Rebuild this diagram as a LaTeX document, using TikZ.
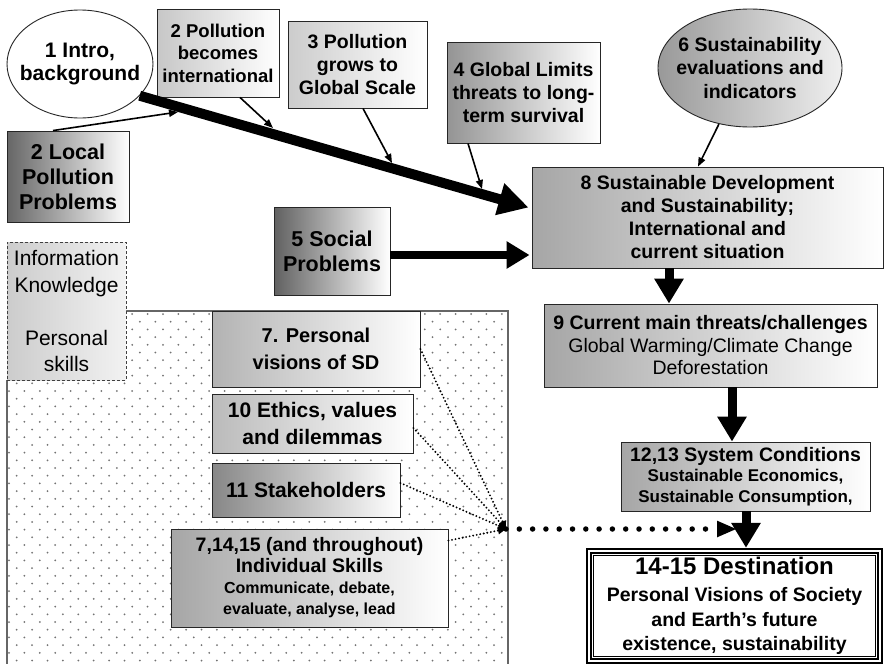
\documentclass[tikz,border=0pt]{standalone}
\usepackage{fontspec}
\setmainfont{Liberation Sans}
\usetikzlibrary{arrows.meta,shapes.geometric,calc}
\newcommand\FS[2]{\fontsize{#1}{#2}\selectfont}
\begin{document}
\begin{tikzpicture}[x=1pt,y=-1pt,
  box/.style={rectangle, draw=black!85, line width=0.9pt, align=center, inner sep=0pt, right color=white},
  oval/.style={ellipse, draw=black!85, line width=0.9pt, align=center, inner sep=-30pt},
  bigarrow/.style={line width=9pt, -{Triangle[length=25pt,width=28pt]}},
  thinarrow/.style={line width=1.6pt, -{Triangle[length=9pt,width=7pt]}},
  dotarrow/.style={line width=2.1pt, dash pattern=on 0pt off 3.6pt, line cap=round, -{Triangle[length=8pt,width=7pt]}},
  bigdots/.style={line width=5.5pt, dash pattern=on 0pt off 13.3pt, line cap=round, -{Triangle[length=20pt,width=15pt]}},
  hd/.style={font=\FS{19.5}{23}\bfseries}
]
\useasboundingbox (0,0) rectangle (884,664);
\fill[white] (0,0) rectangle (884,664);

% dotted field behind the personal-skills boxes
\begin{scope}
  \clip (7,380) -- (126,380) -- (126,311) -- (508,311) -- (508,664) -- (7,664) -- cycle;
  \foreach \j in {0,...,45}{
    \pgfmathsetmacro\yy{314+7.7*\j}
    \pgfmathsetmacro\xo{9+mod(\j,2)*7.7}
    \foreach \i in {0,...,32}{
      \fill[black!55] (\xo+15.4*\i,\yy) circle (1pt);
    }
  }
\end{scope}
\draw[black!60, line width=1.2pt] (7,664) -- (7,380) (126,311) -- (508,311) -- (508,664);

% nodes
\node[oval, fill=white, minimum width=146pt, minimum height=108pt, font=\FS{21}{23}\bfseries] (intro) at (80,64) {1 Intro,\\background};
\node[box, left color=black!22, minimum width=122pt, minimum height=88pt, font=\FS{18.5}{22.5}\bfseries] (intl) at (218,53) {2 Pollution\\becomes\\international};
\node[box, left color=black!20, minimum width=139pt, minimum height=87pt, hd] (glob) at (357.5,64.5) {3 Pollution\\grows to\\Global Scale};
\node[box, left color=black!42, minimum width=153pt, minimum height=101pt, hd] (lim) at (523.5,92.5) {4 Global Limits\\threats to long-\\term survival};
\node[oval, left color=black!40, right color=black!6, minimum width=184pt, minimum height=118pt, font=\FS{19.5}{23.5}\bfseries] (eval) at (750,68) {6 Sustainability\\evaluations and\\indicators};
\node[box, left color=black!60, minimum width=122pt, minimum height=91pt, font=\FS{21.5}{25}\bfseries] (loc) at (68,176.5) {2 Local\\Pollution\\Problems};
\node[box, left color=black!35, minimum width=351pt, minimum height=101pt, hd] (sd) at (707.5,217.5) {8 Sustainable Development\\and Sustainability;\\International and\\current situation};
\node[box, left color=black!62, minimum width=116pt, minimum height=88pt, font=\FS{21.5}{25}\bfseries] (soc) at (332,251) {5 Social\\Problems};
\node[rectangle, draw=black!75, line width=0.9pt, dash pattern=on 3pt off 2pt, left color=black!20, right color=black!5, minimum width=119pt, minimum height=138pt, inner sep=0pt, align=center, font=\FS{21}{26.5}] (info) at (66.5,311) {Information\\Knowledge\\[26.5pt]Personal\\skills};
\node[box, left color=black!30, minimum width=208pt, minimum height=76pt, font=\FS{20}{27}\bfseries] (pv) at (316,349) {7. Personal\\visions of SD};
\node[box, left color=black!27, minimum width=201pt, minimum height=59pt, font=\FS{21}{27}\bfseries] (eth) at (312.5,423.5) {10 Ethics, values\\and dilemmas};
\node[box, left color=black!47, minimum width=188pt, minimum height=54pt, font=\FS{21}{25}\bfseries] (stk) at (306,490) {11 Stakeholders};
\node[box, left color=black!35, minimum width=277pt, minimum height=98pt, font=\FS{19.5}{21}\bfseries] (skl) at (309.5,578) {7,14,15 (and throughout)\\Individual Skills\\{\FS{16}{19}Communicate, debate,}\\{\FS{16}{19}evaluate, analyse, lead}};
\node[box, left color=black!35, minimum width=333pt, minimum height=83pt, font=\FS{19.5}{22.5}\bfseries] (thr) at (710.5,345.5) {9 Current main threats/challenges\\{\mdseries Global Warming/Climate Change}\\{\mdseries Deforestation}};
\node[box, left color=black!35, minimum width=249pt, minimum height=69pt, font=\FS{19.5}{20.5}\bfseries] (sys) at (745.5,476.5) {12,13 System Conditions\\{\FS{17}{20}Sustainable Economics,}\\{\FS{17}{20}Sustainable Consumption,}};
\node[rectangle, fill=white, minimum width=297pt, minimum height=116pt, inner sep=0pt, align=center, font=\FS{19.5}{24.5}\bfseries] (dst) at (734.5,606) {{\FS{24}{28}14-15 Destination}\\[3pt]Personal Visions of Society\\and Earth’s future\\existence, sustainability};

% framed border of the destination box
\draw[line width=6pt] ([shift={(3,-3)}]dst.south west) rectangle ([shift={(-3,3)}]dst.north east);
\draw[white, line width=2pt] ([shift={(3,-3)}]dst.south west) rectangle ([shift={(-3,3)}]dst.north east);
\draw[line width=0.8pt] ([shift={(8,-8)}]dst.south west) rectangle ([shift={(-8,8)}]dst.north east);

% main pollution route
\coordinate (tipd) at ($(sd.west)+(-3,-10)$);
\draw[line width=10pt, -{Triangle[length=30pt,width=31pt]}] (intro.-28) -- (tipd);
\coordinate (c1) at (178,112);
\coordinate (c2) at (273,128);
\coordinate (c3) at (392,163);
\coordinate (c4) at (482,189);
\draw[thinarrow] ([xshift=-15pt]loc.north) -- (c1);
\draw[thinarrow] ([xshift=22pt]intl.south) -- (c2);
\draw[thinarrow] ([xshift=5.5pt]glob.south) -- (c3);
\draw[thinarrow] ([xshift=-55.5pt]lim.south) -- (c4);
\draw[thinarrow] (eval.-119) -- ([xshift=-9.5pt]sd.north);

\coordinate (socout) at ([yshift=-4pt]soc.east);
\draw[line width=8pt, shorten >=2pt, -{Triangle[length=23pt,width=26pt]}] (socout) -- (socout -| sd.west);

% downward chain
\coordinate (x89) at (669,0);
\coordinate (x912) at (732,0);
\coordinate (x12d) at (746,0);
\draw[bigarrow] (sd.south -| x89) -- (thr.north -| x89);
\draw[bigarrow] (thr.south -| x912) -- (sys.north -| x912);
\draw[bigarrow] (sys.south -| x12d) -- (dst.north -| x12d);

% personal skills feeding the destination
\coordinate (hub) at (506,529);
\coordinate (dtip) at (737,529);
\draw[dotarrow] (pv.east) -- (hub);
\draw[dotarrow] ([yshift=-4.5pt]eth.east) -- (hub);
\draw[dotarrow] ([yshift=7pt]stk.east) -- (hub);
\draw[dotarrow] ([yshift=-12pt]skl.north east) -- (hub);
\draw[bigdots] (hub) -- (dtip);
\end{tikzpicture}
\end{document}
